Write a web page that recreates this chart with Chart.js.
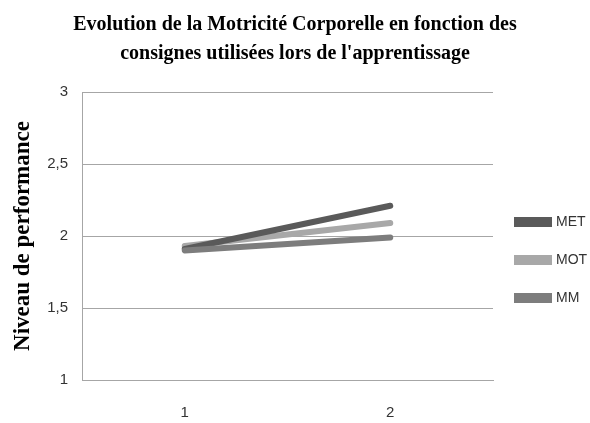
<!DOCTYPE html>
<html lang="fr">
<head>
  <meta charset="UTF-8">
  <title>Evolution de la Motricité Corporelle</title>
  <script src="https://cdn.jsdelivr.net/npm/chart.js"></script>
  <style>
    html, body { margin: 0; padding: 0; background: #fff; }
    .chart-container { position: relative; width: 590px; height: 423px; }
  </style>
</head>
<body>
  <div class="chart-container">
    <canvas id="lineChart"></canvas>
  </div>

  <script>
    // Données
    const categories = ['1', '2'];
    const seriesNames = ['MET', 'MOT', 'MM'];
    const metValues = [1.91, 2.21];
    const motValues = [1.93, 2.09];
    const mmValues = [1.90, 1.99];
    const colors = ['#5a5a5a', '#a8a8a8', '#7d7d7d'];

    const values = [metValues, motValues, mmValues];

    new Chart(document.getElementById('lineChart'), {
      type: 'line',
      data: {
        labels: categories,
        datasets: seriesNames.map((name, i) => ({
          label: name,
          data: values[i],
          borderColor: colors[i],
          backgroundColor: colors[i],
          borderWidth: 6,
          borderCapStyle: 'round',
          pointRadius: 0,
          tension: 0,
          // MM dessinée au-dessus
          order: i === 2 ? 0 : i + 1
        }))
      },
      options: {
        responsive: true,
        maintainAspectRatio: false,
        animation: false,
        layout: { padding: { left: 0, right: 0, top: 0, bottom: 0 } },
        plugins: {
          title: {
            display: true,
            text: ['Evolution de la Motricité Corporelle en fonction des',
                   "consignes utilisées lors de l'apprentissage"],
            color: '#000',
            font: { family: 'Liberation Serif', size: 20, weight: 'bold', lineHeight: 1.45 },
            padding: { top: 10, bottom: 24 }
          },
          legend: {
            position: 'right',
            maxWidth: 97,
            title: { display: true, text: ' ', padding: 45, font: { size: 6 } },
            labels: {
              boxWidth: 32,
              boxHeight: 4,
              padding: 24,
              color: '#333',
              font: { family: 'Liberation Sans', size: 14 },
              sort: (a, b) => a.datasetIndex - b.datasetIndex
            }
          },
          tooltip: { enabled: false }
        },
        scales: {
          x: {
            offset: true,
            grid: { display: false, drawTicks: false },
            border: { display: true, color: '#a6a6a6' },
            ticks: {
              padding: 24,
              color: '#333',
              font: { family: 'Liberation Sans', size: 15 }
            },
            afterFit: s => { s.height = 43; }
          },
          y: {
            min: 1,
            max: 3,
            grid: { color: '#a6a6a6', drawTicks: false },
            border: { display: true, color: '#a6a6a6' },
            ticks: {
              stepSize: 0.5,
              padding: 14,
              color: '#333',
              font: { family: 'Liberation Sans', size: 15 },
              callback: v => String(v).replace('.', ',')
            },
            title: {
              display: true,
              text: 'Niveau de performance',
              color: '#000',
              font: { family: 'Liberation Serif', size: 23, weight: 'bold' },
              padding: { top: 9, bottom: 10 }
            },
            afterFit: s => { s.width = 82; }
          }
        }
      }
    });
  </script>
</body>
</html>
